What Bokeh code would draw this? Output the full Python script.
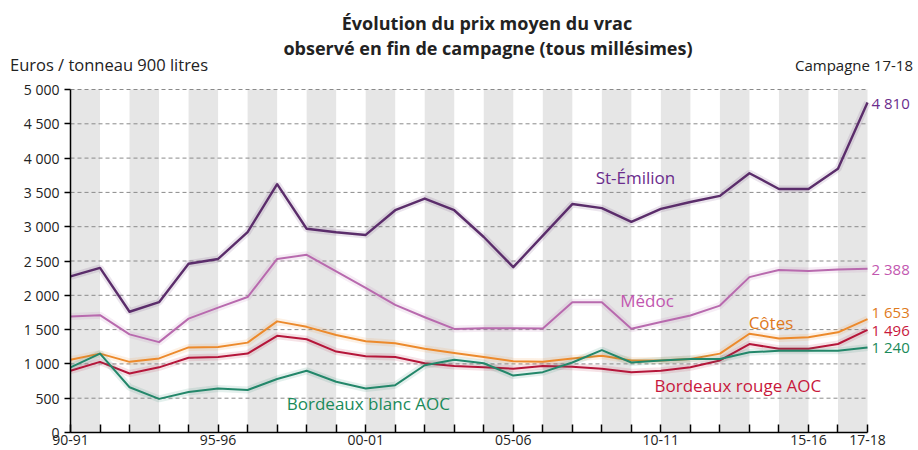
from bokeh.plotting import figure
from bokeh.layouts import column
from bokeh.models import Range1d, FixedTicker, Label, Div
from bokeh.embed import file_html
from bokeh.resources import INLINE

# ---------------- data ----------------
seasons = ["90-91", "91-92", "92-93", "93-94", "94-95", "95-96", "96-97", "97-98",
           "98-99", "99-00", "00-01", "01-02", "02-03", "03-04", "04-05", "05-06",
           "06-07", "07-08", "08-09", "09-10", "10-11", "11-12", "12-13", "13-14",
           "14-15", "15-16", "16-17", "17-18"]
x_tick_labels = ["90-91", "95-96", "00-01", "05-06", "10-11", "15-16", "17-18"]
y_ticks = [0, 500, 1000, 1500, 2000, 2500, 3000, 3500, 4000, 4500, 5000]
y_tick_labels = ["0", "500", "1 000", "1 500", "2 000", "2 500", "3 000", "3 500",
                 "4 000", "4 500", "5 000"]

st_emilion = [2275, 2400, 1760, 1900, 2460, 2530, 2920, 3620, 2970, 2920, 2880, 3240,
              3410, 3240, 2850, 2410, 2870, 3330, 3270, 3070, 3260, 3360, 3450, 3780,
              3550, 3550, 3845, 4810]
medoc = [1690, 1710, 1430, 1317, 1660, 1820, 1975, 2530, 2590, 2350, 2110, 1860,
         1680, 1510, 1520, 1520, 1515, 1900, 1900, 1512, 1610, 1706, 1850, 2265,
         2370, 2355, 2377, 2388]
cotes = [1060, 1150, 1030, 1080, 1240, 1245, 1310, 1620, 1540, 1420, 1330, 1300,
         1220, 1160, 1100, 1040, 1030, 1080, 1120, 1050, 1050, 1070, 1150, 1440,
         1370, 1390, 1460, 1653]
rouge = [900, 1030, 860, 950, 1090, 1100, 1150, 1410, 1360, 1180, 1110, 1100,
         1010, 970, 950, 930, 970, 960, 930, 880, 900, 950, 1050, 1290,
         1220, 1220, 1290, 1496]
blanc = [950, 1150, 660, 490, 590, 640, 620, 780, 900, 740, 640, 690,
         980, 1060, 1010, 830, 880, 1020, 1200, 1020, 1050, 1070, 1070, 1170,
         1190, 1190, 1190, 1240]

series_names = ["St-Émilion", "Médoc", "Côtes", "Bordeaux rouge AOC", "Bordeaux blanc AOC"]
series_values = [st_emilion, medoc, cotes, rouge, blanc]
end_labels = ["4 810", "2 388", "1 653", "1 496", "1 240"]
end_label_y = [4810, 2388, 1754, 1496, 1240]

title_lines = ["Évolution du prix moyen du vrac",
               "observé en fin de campagne (tous millésimes)"]
unit_text = "Euros / tonneau 900 litres"
campaign_text = "Campagne 17-18"

# ---------------- layout / styles ----------------
FONT = "Open Sans"
W = 918
HEADER_H = 76
MAIN_H = 450 - HEADER_H
LEFT, RIGHT, TOP, BOTTOM = 70, 867, 89, 432     # data area edges in page pixels
line_colors = ["#5b2d6b", "#b86aae", "#ec8a2c", "#b5163a", "#23876a"]
text_colors = ["#6b2c8c", "#c257b0", "#e07a1c", "#c8183c", "#1a8a5a"]
line_widths = [2.4, 2.0, 2.0, 2.0, 2.0]
name_pos = [(19.14, 3718), (19.53, 1925), (23.73, 1608), (22.61, 685), (10.09, 427)]

n = len(seasons)
xs = list(range(n))
XMAX = n - 1
YMAX = y_ticks[-1]
px_per_x = (RIGHT - LEFT) / XMAX
px_per_y = (BOTTOM - TOP) / YMAX
frame_top = TOP - 1 - HEADER_H            # frame top inside main canvas

# ---------------- header (HTML text) ----------------
def span(text, top, lh, size, weight="normal", left=None, right=None, width=None, align="left"):
    pos = f"top:{top}px;height:{lh}px;line-height:{lh}px;"
    if left is not None:
        pos += f"left:{left}px;"
    if right is not None:
        pos += f"right:{right}px;"
    if width is not None:
        pos += f"width:{width}px;"
    return (f'<span style="position:absolute;{pos}font-family:\'{FONT}\';font-size:{size}px;'
            f'font-weight:{weight};color:#222222;white-space:nowrap;text-align:{align};">'
            f'{text}</span>')

header_html = (
    f'<div style="position:relative;width:{W}px;height:{HEADER_H}px;">'
    + span(title_lines[0], 23 - 10, 20, 18, "bold", left=487 - 350, width=700, align="center")
    + span(title_lines[1], 48 - 10, 20, 18, "bold", left=488 - 350, width=700, align="center")
    + span(unit_text, 65 - 10, 20, 16.5, left=10)
    + span(campaign_text, 65 - 10, 20, 15, right=W - 913)
    + '</div>'
)
header = Div(text=header_html, width=W, height=HEADER_H, margin=0,
             styles={"overflow": "visible"})

# ---------------- main chart ----------------
p = figure(width=W, height=MAIN_H, output_backend="svg", toolbar_location=None, tools="",
           x_range=Range1d(0, XMAX + (W - RIGHT) / px_per_x),
           y_range=Range1d(0, YMAX + 1 / px_per_y),
           min_border_left=LEFT, min_border_right=0,
           min_border_top=frame_top, min_border_bottom=450 - BOTTOM)
p.outline_line_color = None
p.background_fill_color = "white"
p.border_fill_color = "white"
p.grid.visible = False

# alternating bands
band_left = [i for i in range(0, XMAX, 2)]
band_right = [i + 1 for i in band_left]
p.quad(left=band_left, right=band_right, bottom=0, top=YMAX,
       fill_color="#e6e6e6", line_color=None, level="image")

# dashed horizontal grid lines limited to the data area
p.segment(x0=[0] * len(y_ticks), x1=[XMAX] * len(y_ticks), y0=y_ticks, y1=y_ticks,
          line_dash="4 3", line_color="#8a8a8a", line_width=1, level="underlay")

# lines
for vals, c, w in zip(series_values, line_colors, line_widths):
    p.line(xs, vals, line_width=7, color=c, alpha=0.12)
    p.line(xs, vals, line_width=w, color=c, line_join="round")

# axes
p.xaxis.bounds = (0, XMAX)
p.xaxis.ticker = FixedTicker(ticks=xs)
p.xaxis.major_label_overrides = {i: (s if s in x_tick_labels else "") for i, s in enumerate(seasons)}
p.xaxis.major_tick_in = 8
p.xaxis.major_tick_out = 0
p.xaxis.minor_tick_line_color = None
p.xaxis.axis_line_color = "black"
p.xaxis.axis_line_width = 1.5
p.xaxis.major_tick_line_color = "black"
p.xaxis.major_tick_line_width = 1.5
p.xaxis.major_label_standoff = 2
p.xaxis.major_label_text_font = FONT
p.xaxis.major_label_text_font_size = "14px"
p.xaxis.major_label_text_color = "#222222"

p.yaxis.bounds = (0, YMAX)
p.yaxis.ticker = FixedTicker(ticks=y_ticks)
p.yaxis.major_label_overrides = {v: l for v, l in zip(y_ticks, y_tick_labels)}
p.yaxis.major_tick_in = 0
p.yaxis.major_tick_out = 6
p.yaxis.minor_tick_line_color = None
p.yaxis.axis_line_color = "black"
p.yaxis.axis_line_width = 1.5
p.yaxis.major_tick_line_color = "black"
p.yaxis.major_tick_line_width = 1.5
p.yaxis.major_label_standoff = 5
p.yaxis.major_label_text_font = FONT
p.yaxis.major_label_text_font_size = "14px"
p.yaxis.major_label_text_color = "#222222"

# series names
for name, (lx, ly), tc in zip(series_names, name_pos, text_colors):
    p.add_layout(Label(x=lx, y=ly, text=name, text_font=FONT, text_font_size="17px",
                       text_color=tc, text_align="center", text_baseline="middle"))

# end-of-line values
for lab, ly, tc in zip(end_labels, end_label_y, text_colors):
    p.add_layout(Label(x=XMAX, y=ly, x_offset=4, text=lab, text_font=FONT,
                       text_font_size="15px", text_color=tc, text_align="left",
                       text_baseline="middle"))

layout = column(header, p, spacing=0)
open("out.html", "w").write(file_html(layout, INLINE))
